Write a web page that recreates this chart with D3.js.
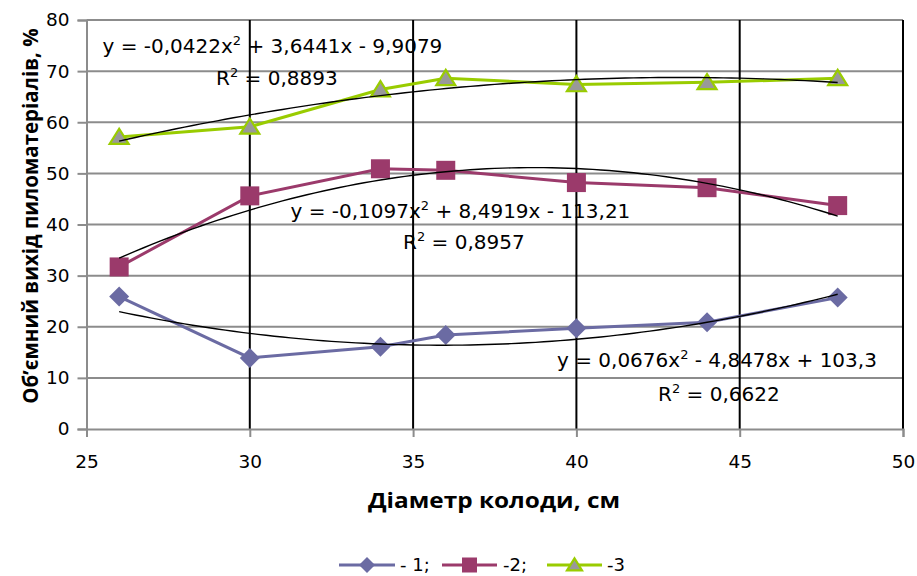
<!DOCTYPE html>
<html><head><meta charset="utf-8">
<script src="https://cdn.jsdelivr.net/npm/d3@7/dist/d3.min.js"></script>
<style>body{margin:0;background:#fff}</style>
</head><body><svg id="c" width="917" height="576"></svg>
<script>
const diameters = [26, 30, 34, 36, 40, 44, 48];
const series1 = [25.9, 13.9, 16.1, 18.4, 19.7, 20.9, 25.7];
const series2 = [31.7, 45.6, 50.9, 50.6, 48.2, 47.2, 43.7];
const series3 = [57.1, 59.1, 66.4, 68.6, 67.4, 67.8, 68.6];
const seriesNames = ["- 1;", "-2;", "-3"];
const trend1 = [0.0676, -4.8478, 103.3];
const trend2 = [-0.1097, 8.4919, -113.21];
const trend3 = [-0.0422, 3.6441, -9.9079];
const eqTexts = [
  ["y = 0,0676x", " - 4,8478x + 103,3", "R", " = 0,6622"],
  ["y = -0,1097x", " + 8,4919x - 113,21", "R", " = 0,8957"],
  ["y = -0,0422x", " + 3,6441x - 9,9079", "R", " = 0,8893"]
];
const xTicks = [25, 30, 35, 40, 45, 50];
const yTicks = [0, 10, 20, 30, 40, 50, 60, 70, 80];
const xTitle = "Діаметр колоди, см";
const yTitle = "Об’ємний вихід пиломатеріалів, %";

const svg = d3.select("#c");
const x = d3.scaleLinear().domain([25, 50]).range([86.5, 903]);
const y = d3.scaleLinear().domain([0, 80]).range([429, 20]);
const tickFont = "'DejaVu Sans', Verdana, sans-serif";

// horizontal gridlines
svg.append("g").selectAll("line").data(yTicks.filter(d => d > 0)).join("line")
  .attr("x1", x(25)).attr("x2", x(50)).attr("y1", d => y(d)).attr("y2", d => y(d))
  .attr("stroke", "#8c8c8c").attr("stroke-width", 2);
// vertical gridlines
svg.append("g").selectAll("line").data(xTicks.filter(d => d > 25)).join("line")
  .attr("x1", d => x(d)).attr("x2", d => x(d)).attr("y1", y(80)).attr("y2", y(0))
  .attr("stroke", "#000").attr("stroke-width", 2);

// axes
const yAxis = svg.append("g").attr("transform", `translate(${x(25)},0)`)
  .call(d3.axisLeft(y).tickValues(yTicks).tickSize(9).tickPadding(8));
const xAxis = svg.append("g").attr("transform", `translate(0,${y(0)})`)
  .call(d3.axisBottom(x).tickValues(xTicks).tickSize(8).tickPadding(18));
[yAxis, xAxis].forEach(a => {
  a.select(".domain").attr("stroke", "#8c8c8c").attr("stroke-width", 2);
  a.selectAll(".tick line").attr("stroke", "#8c8c8c").attr("stroke-width", 2);
  a.selectAll(".tick text").attr("fill", "#000").style("font-family", tickFont).style("font-size", "18.5px");
});
xAxis.selectAll(".tick text").attr("dy", "0.71em");

// series
const colors = ["#6b6ba3", "#9b3a6b", "#99cc00"];
const allSeries = [series1, series2, series3];
const line = d3.line().x((d, i) => x(diameters[i])).y(d => y(d));

function marker(g, type, cx, cy, s) {
  if (type === 0) {
    g.append("path").attr("d", `M${cx},${cy - s}L${cx + s},${cy}L${cx},${cy + s}L${cx - s},${cy}Z`)
      .attr("fill", colors[0]);
  } else if (type === 1) {
    g.append("rect").attr("x", cx - s).attr("y", cy - s).attr("width", 2 * s).attr("height", 2 * s)
      .attr("fill", colors[1]);
  } else {
    const h = s * 1.6;
    g.append("path").attr("d", `M${cx},${cy - h * 0.55}L${cx + s},${cy + h * 0.45}L${cx - s},${cy + h * 0.45}Z`)
      .attr("fill", "#999999").attr("stroke", colors[2]).attr("stroke-width", 2.2);
  }
}

allSeries.forEach((vals, si) => {
  const g = svg.append("g");
  g.append("path").datum(vals).attr("d", line).attr("fill", "none")
    .attr("stroke", colors[si]).attr("stroke-width", 3);
  vals.forEach((v, i) => marker(g, si, x(diameters[i]), y(v), si === 0 ? 10 : 9.5));
});

// trendlines
[trend1, trend2, trend3].forEach(c => {
  const xs = d3.range(26, 48.001, 0.25);
  svg.append("path").datum(xs)
    .attr("d", d3.line().x(d => x(d)).y(d => y(c[0] * d * d + c[1] * d + c[2])))
    .attr("fill", "none").attr("stroke", "#000").attr("stroke-width", 1.4);
});

// equation labels
const eqPos = [[557, 367, 658, 401], [290.5, 218, 403, 249], [102.5, 53, 216, 85]];
eqTexts.forEach((t, i) => {
  const p = eqPos[i];
  const e = svg.append("text").attr("x", p[0]).attr("y", p[1])
    .style("font-family", tickFont).style("font-size", "20px").attr("fill", "#000");
  e.append("tspan").text(t[0]);
  e.append("tspan").text("2").attr("dy", -8).style("font-size", "13px");
  e.append("tspan").text(t[1]).attr("dy", 8);
  const r = svg.append("text").attr("x", p[2]).attr("y", p[3])
    .style("font-family", tickFont).style("font-size", "20px").attr("fill", "#000");
  r.append("tspan").text(t[2]);
  r.append("tspan").text("2").attr("dy", -8).style("font-size", "13px");
  r.append("tspan").text(t[3]).attr("dy", 8);
});

// titles
svg.append("text").attr("x", 494).attr("y", 508).attr("text-anchor", "middle")
  .attr("textLength", 252).attr("lengthAdjust", "spacingAndGlyphs")
  .style("font-family", "'Open Sans', sans-serif").style("font-weight", "bold").style("font-size", "21px")
  .text(xTitle);
svg.append("text").attr("transform", "translate(38,216) rotate(-90)").attr("text-anchor", "middle")
  .style("font-family", "'Open Sans', sans-serif").style("font-weight", "bold").style("font-size", "20.5px")
  .text(yTitle);

// legend
const legY = 565;
const legItems = [[339, 395, 400], [442, 497, 503], [547, 602, 607]];
legItems.forEach((l, i) => {
  const g = svg.append("g");
  g.append("line").attr("x1", l[0]).attr("x2", l[1]).attr("y1", legY).attr("y2", legY)
    .attr("stroke", colors[i]).attr("stroke-width", 3);
  marker(g, i, (l[0] + l[1]) / 2, legY, i === 0 ? 8 : 7.5);
  g.append("text").attr("x", l[2]).attr("y", legY).attr("dy", "0.35em")
    .style("font-family", tickFont).style("font-size", "18px").text(seriesNames[i]);
});
</script></body></html>
